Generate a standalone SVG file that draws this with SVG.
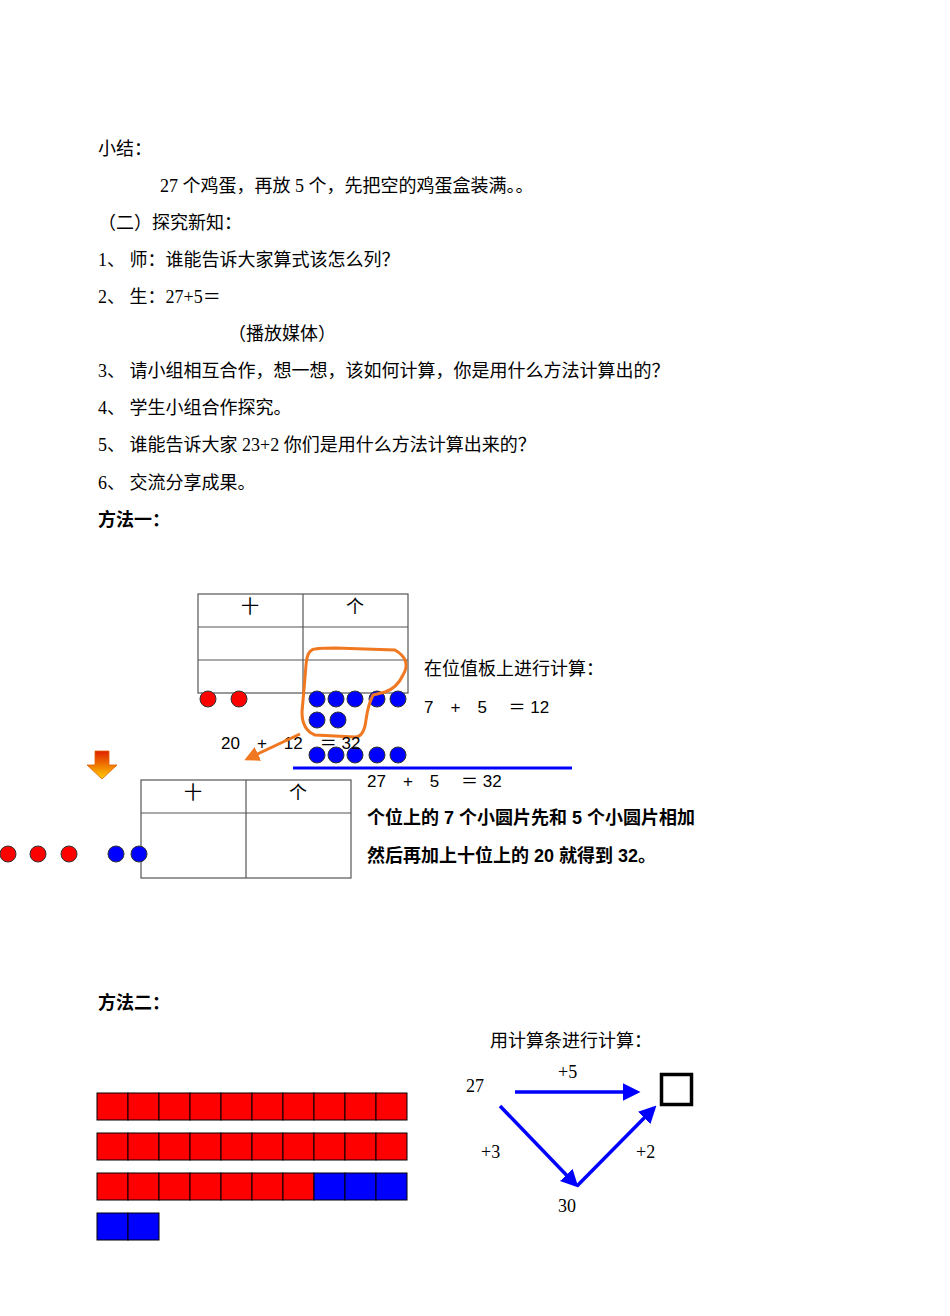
<svg xmlns="http://www.w3.org/2000/svg" width="950" height="1316" viewBox="0 0 950 1316">
<defs>
<style>
text{font-family:"Liberation Serif","Noto Sans CJK SC",serif;font-size:18px;fill:#000}
.b{font-weight:bold;font-family:"Liberation Sans","Noto Sans CJK SC",sans-serif}
.c{font-family:"Liberation Sans","Noto Sans CJK SC",sans-serif;font-size:17px}
.t{fill:none;stroke:#555;stroke-width:1.2}
.r{fill:#f00;stroke:#333;stroke-width:1}
.bl{fill:#00f;stroke:#333;stroke-width:1}
.ar{stroke:#00f;stroke-width:3.5;fill:none}
</style>
<marker id="m" viewBox="0 0 10 10" refX="8" refY="5" markerWidth="5" markerHeight="5" orient="auto"><path d="M0,0L10,5L0,10z" fill="#00f"/></marker>
<marker id="mo" viewBox="0 0 10 10" refX="8" refY="5" markerWidth="5" markerHeight="5" orient="auto"><path d="M0,0L10,5L0,10z" fill="#f07820"/></marker>
<linearGradient id="g" x1="0" y1="0" x2="0" y2="1"><stop offset="0" stop-color="#e02000"/><stop offset="1" stop-color="#ffd000"/></linearGradient>
</defs>
<g id="text">
<text x="98" y="155">小结：</text>
<text x="160" y="192">27 个鸡蛋，再放 5 个，先把空的鸡蛋盒装满。。</text>
<text x="98" y="229">（二）探究新知：</text>
<text x="98" y="266">1、 师：谁能告诉大家算式该怎么列？</text>
<text x="98" y="303">2、 生：27+5＝</text>
<text x="228" y="340">（播放媒体）</text>
<text x="98" y="377">3、 请小组相互合作，想一想，该如何计算，你是用什么方法计算出的？</text>
<text x="98" y="414">4、 学生小组合作探究。</text>
<text x="98" y="451">5、 谁能告诉大家 23+2 你们是用什么方法计算出来的？</text>
<text x="98" y="489">6、 交流分享成果。</text>
<text x="98" y="526" class="b">方法一：</text>
<text x="98" y="1009" class="b">方法二：</text>
</g>
<g id="table1">
<rect x="198" y="594" width="210" height="99" class="t"/>
<line x1="198" y1="627" x2="408" y2="627" class="t"/>
<line x1="198" y1="660" x2="408" y2="660" class="t"/>
<line x1="303" y1="594" x2="303" y2="693" class="t"/>
<text x="241" y="613">十</text><text x="346" y="613">个</text>
</g>
<g id="dots1">
<circle cx="208" cy="699" r="8" class="r"/><circle cx="239" cy="699" r="8" class="r"/>
<circle cx="317" cy="699" r="8" class="bl"/><circle cx="336" cy="699" r="8" class="bl"/><circle cx="355" cy="699" r="8" class="bl"/><circle cx="377" cy="699" r="8" class="bl"/><circle cx="398" cy="699" r="8" class="bl"/>
<circle cx="317" cy="720" r="8" class="bl"/><circle cx="338" cy="720" r="8" class="bl"/>
<circle cx="317" cy="755" r="8" class="bl"/><circle cx="336" cy="755" r="8" class="bl"/><circle cx="355" cy="755" r="8" class="bl"/><circle cx="377" cy="755" r="8" class="bl"/><circle cx="398" cy="755" r="8" class="bl"/>
</g>
<g id="loop">
<path d="M312,650 Q314,648 335,648 L395,650 Q412,660 403,675 Q397,688 385,692 L373,695 Q368,705 366,720 Q364,737 355,737 L315,735 Q302,730 302,712 Q304,690 306,665 Q307,652 312,650 Z" fill="none" stroke="#f07820" stroke-width="3"/>
</g>
<g id="eqs" class="c">
<text x="424" y="675">在位值板上进行计算：</text>
<text x="424" y="713" class="c">7　+　5　 ＝ 12</text>
<text x="221" y="749" class="c">20　+　12　＝ 32</text>
<text x="367" y="787" class="c">27　+　5　 ＝ 32</text>
<text x="367" y="824" class="b">个位上的 7 个小圆片先和 5 个小圆片相加</text>
<text x="367" y="862" class="b">然后再加上十位上的 20 就得到 32。</text>
</g>
<g id="connectors">
<line x1="300" y1="734" x2="247" y2="759" stroke="#f07820" stroke-width="3" marker-end="url(#mo)"/>
<line x1="293" y1="768" x2="572" y2="768" stroke="#00f" stroke-width="3"/>
<path d="M95,751h14v14h8l-15,14l-15,-14h8z" fill="url(#g)" stroke="#e06000" stroke-width="0.8"/>
<line x1="515" y1="1092" x2="637" y2="1092" class="ar" marker-end="url(#m)"/>
<line x1="500" y1="1106" x2="576" y2="1185" class="ar" marker-end="url(#m)"/>
<line x1="577" y1="1186" x2="654" y2="1108" class="ar" marker-end="url(#m)"/>
</g>
<g id="table2">
<rect x="141" y="780" width="210" height="98" class="t"/>
<line x1="141" y1="813" x2="351" y2="813" class="t"/>
<line x1="246" y1="780" x2="246" y2="878" class="t"/>
<text x="184" y="799">十</text><text x="289" y="799">个</text>
</g>
<g id="dots2">
<circle cx="8" cy="854" r="8" class="r"/><circle cx="38" cy="854" r="8" class="r"/><circle cx="69" cy="854" r="8" class="r"/>
<circle cx="116" cy="854" r="8" class="bl"/><circle cx="139" cy="854" r="8" class="bl"/>
</g>
<g id="bars" stroke="#000" stroke-width="1">
<g fill="#f00">
<rect x="97" y="1093" width="31" height="27"/><rect x="128" y="1093" width="31" height="27"/><rect x="159" y="1093" width="31" height="27"/><rect x="190" y="1093" width="31" height="27"/><rect x="221" y="1093" width="31" height="27"/><rect x="252" y="1093" width="31" height="27"/><rect x="283" y="1093" width="31" height="27"/><rect x="314" y="1093" width="31" height="27"/><rect x="345" y="1093" width="31" height="27"/><rect x="376" y="1093" width="31" height="27"/>
<rect x="97" y="1133" width="31" height="27"/><rect x="128" y="1133" width="31" height="27"/><rect x="159" y="1133" width="31" height="27"/><rect x="190" y="1133" width="31" height="27"/><rect x="221" y="1133" width="31" height="27"/><rect x="252" y="1133" width="31" height="27"/><rect x="283" y="1133" width="31" height="27"/><rect x="314" y="1133" width="31" height="27"/><rect x="345" y="1133" width="31" height="27"/><rect x="376" y="1133" width="31" height="27"/>
<rect x="97" y="1173" width="31" height="27"/><rect x="128" y="1173" width="31" height="27"/><rect x="159" y="1173" width="31" height="27"/><rect x="190" y="1173" width="31" height="27"/><rect x="221" y="1173" width="31" height="27"/><rect x="252" y="1173" width="31" height="27"/><rect x="283" y="1173" width="31" height="27"/>
</g>
<g fill="#00f">
<rect x="314" y="1173" width="31" height="27"/><rect x="345" y="1173" width="31" height="27"/><rect x="376" y="1173" width="31" height="27"/>
<rect x="97" y="1213" width="31" height="27"/><rect x="128" y="1213" width="31" height="27"/>
</g>
</g>
<g id="method2">
<text x="490" y="1047">用计算条进行计算：</text>
<text x="466" y="1092">27</text>
<text x="558" y="1078">+5</text>
<text x="481" y="1158">+3</text>
<text x="636" y="1158">+2</text>
<text x="558" y="1212">30</text>
<rect x="661.5" y="1074.5" width="30" height="30" fill="none" stroke="#000" stroke-width="3.5"/>
</g>
</svg>
